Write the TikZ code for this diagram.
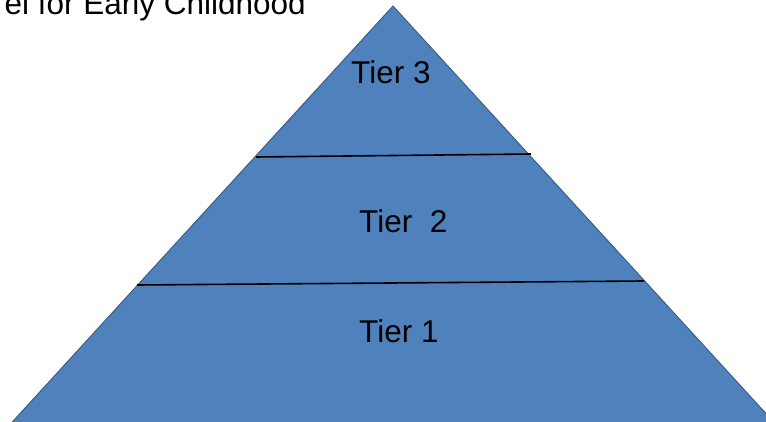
\documentclass[tikz,border=0pt]{standalone}
\usepackage{fontspec}
\setmainfont{Liberation Sans}
\definecolor{pyrfill}{HTML}{4F81BD}
\definecolor{pyredge}{HTML}{3A5A80}
\begin{document}
\begin{tikzpicture}[x=1pt,y=1pt,
  tierlabel/.style={inner sep=0pt,anchor=base west,font=\fontsize{31.5}{36}\selectfont},
  divider/.style={draw=black,line width=1.6pt}]
\useasboundingbox (0,0) rectangle (766,421);
\clip (0,0) rectangle (766,421);
\coordinate (apex) at (393,415);
\coordinate (bl) at (4,-10);
\coordinate (br) at (782,-10);
\filldraw[fill=pyrfill,draw=pyredge,line width=0.9pt] (apex) -- (br) -- (bl) -- cycle;
\coordinate (d1l) at (256,264);
\coordinate (d1r) at (531,267);
\coordinate (d2l) at (137,136);
\coordinate (d2r) at (644,140);
\draw[divider] (d1l) -- (d1r);
\draw[divider] (d2l) -- (d2r);
\node[tierlabel] (t3) at (351,337) {Tier 3};
\node[tierlabel] (t2) at (359,188) {Tier\ \ 2};
\node[tierlabel] (t1) at (359,79) {Tier 1};
\node[inner sep=0pt,anchor=base east,font=\fontsize{31.5}{36}\selectfont] (title) at (306,406) {el for Early Childhood};
\end{tikzpicture}
\end{document}
